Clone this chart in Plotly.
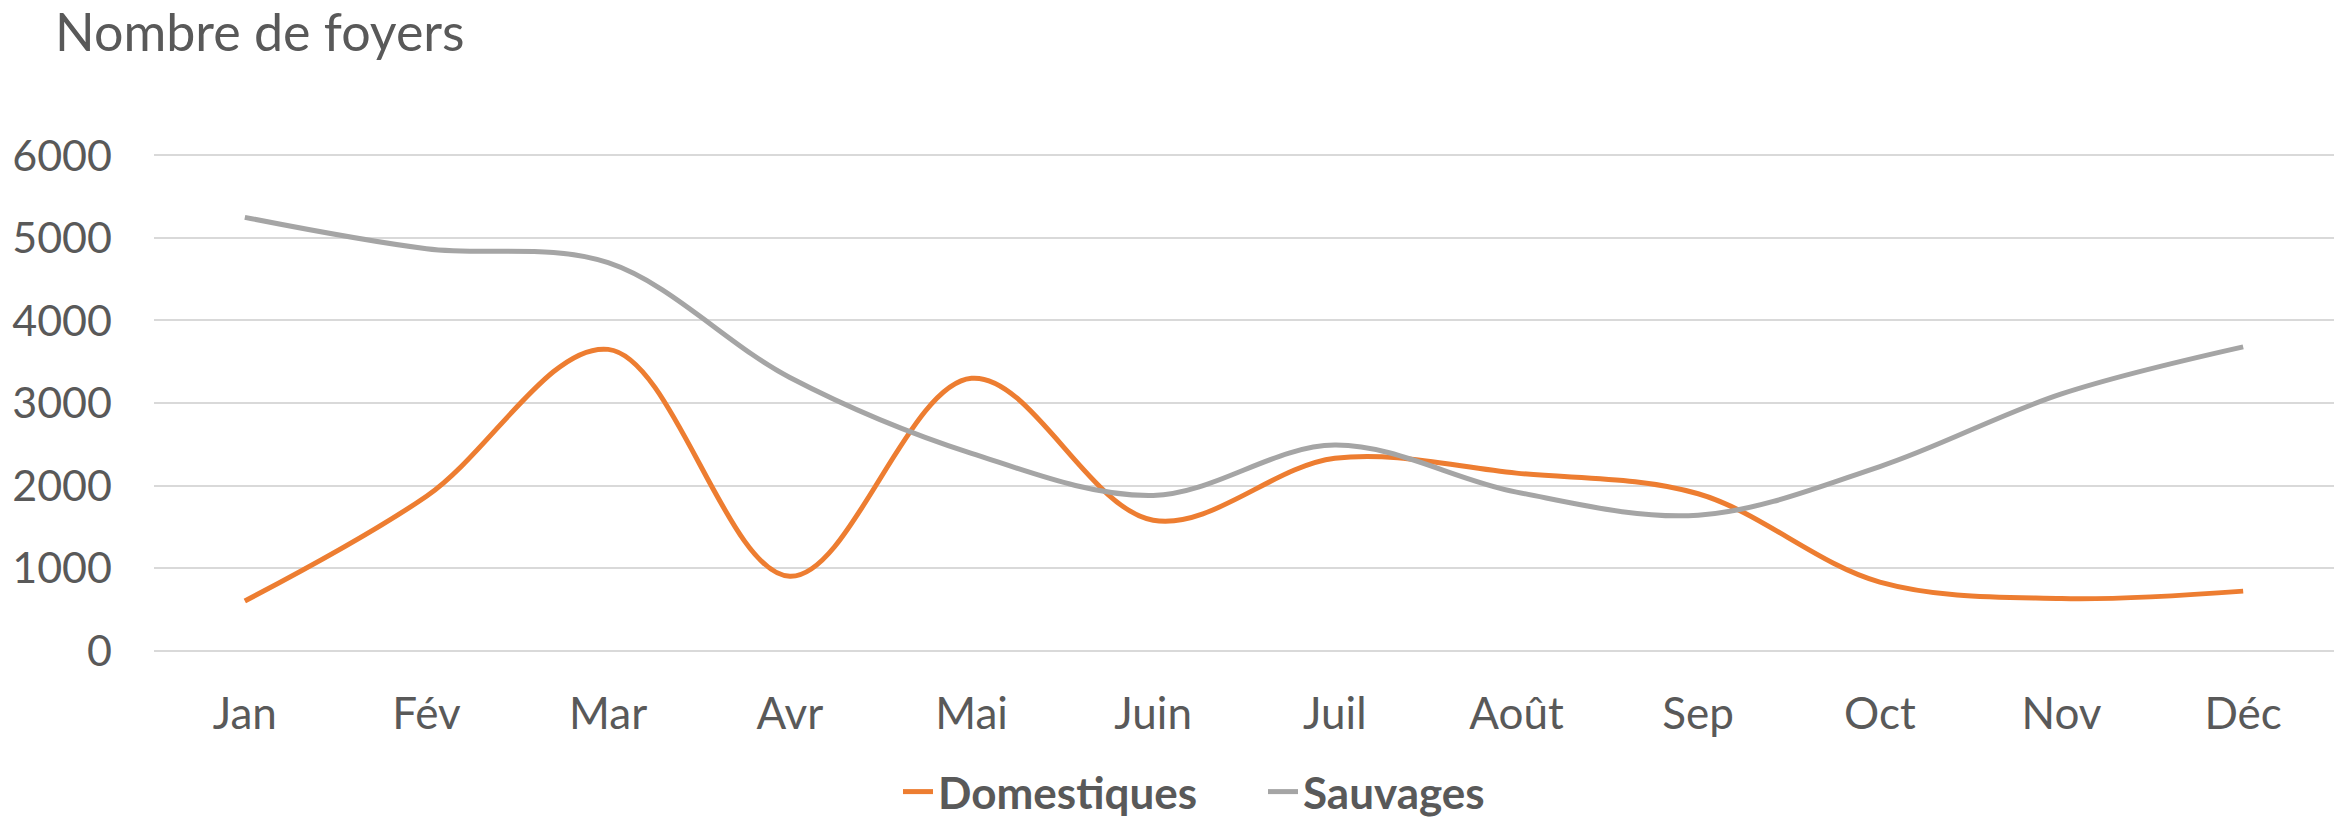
import plotly.graph_objects as go

months = ["Jan", "Fév", "Mar", "Avr", "Mai", "Juin", "Juil", "Août", "Sep", "Oct", "Nov", "Déc"]
domestiques = [600, 1870, 3650, 900, 3300, 1580, 2330, 2150, 1900, 830, 630, 720]
sauvages = [5250, 4870, 4700, 3310, 2390, 1880, 2490, 1920, 1640, 2230, 3110, 3680]
y_ticks = [0, 1000, 2000, 3000, 4000, 5000, 6000]

FONT = "Lato"
TXT = "#595959"

fig = go.Figure()
fig.add_trace(go.Scatter(x=months, y=domestiques, name="Domestiques", mode="lines",
                         line=dict(color="#ED7D31", width=5, shape="spline", smoothing=1.0)))
fig.add_trace(go.Scatter(x=months, y=sauvages, name="Sauvages", mode="lines",
                         line=dict(color="#A5A5A5", width=5, shape="spline", smoothing=1.0)))

fig.update_layout(
    width=2341, height=817,
    paper_bgcolor="white", plot_bgcolor="white",
    margin=dict(l=154, r=7, t=152.5, b=163.8, pad=0, autoexpand=False),
    font=dict(family=FONT, color=TXT, size=44),
    title=dict(text="Nombre de foyers", xref="container", yref="container",
               x=55/2341, xanchor="left", y=1-33/817, yanchor="middle",
               font=dict(family=FONT, size=52, color=TXT)),
    showlegend=True,
    legend=dict(orientation="h", xref="container", yref="container",
                x=898/2341, xanchor="left", y=1-792/817, yanchor="middle",
                entrywidth=320, entrywidthmode="pixels",
                font=dict(family=FONT, size=44, color=TXT, weight="bold"),
                bgcolor="rgba(0,0,0,0)"),
    xaxis=dict(range=[-0.5, 11.5], showgrid=False, zeroline=False, showline=False,
               ticks="", ticklabelstandoff=31, tickfont=dict(size=44, color=TXT)),
    yaxis=dict(range=[-30, 6030], tickvals=y_ticks, showgrid=True, gridcolor="#D9D9D9",
               gridwidth=2, zeroline=False, showline=False, ticks="",
               ticklabelstandoff=41, tickfont=dict(size=43, color=TXT)),
)

fig.write_html("out.html", config={"displayModeBar": False},
               post_script="document.body.style.margin='0';document.body.style.overflow='hidden';")
